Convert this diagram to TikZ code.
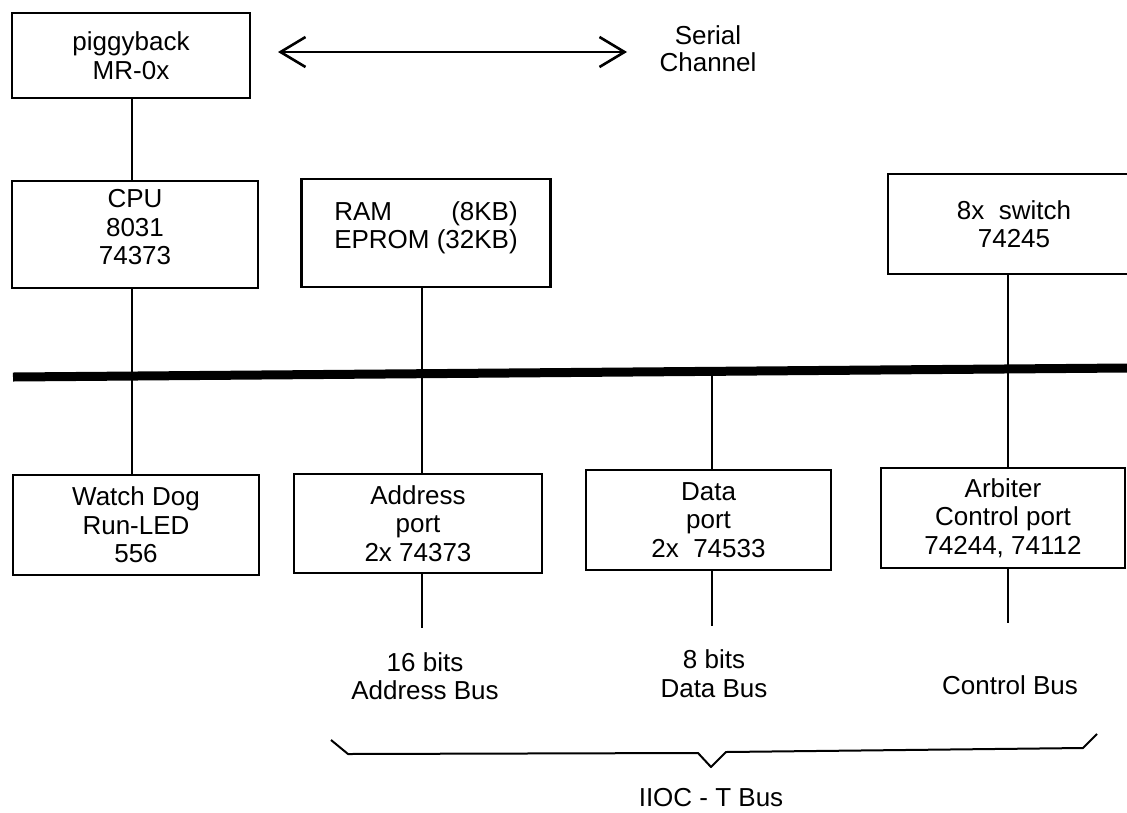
\documentclass[tikz,border=0pt]{standalone}
\usepackage{fontspec}
\setmainfont{Liberation Sans}
\usetikzlibrary{arrows.meta}
\newlength\ramw
\begin{document}
\begin{tikzpicture}[x=1pt,y=-1pt,
  font=\fontsize{26}{28.5}\selectfont,
  box/.style={draw, line width=2.6pt, align=center, inner sep=0pt},
  lbl/.style={align=center, inner sep=0pt},
  wire/.style={line width=2.3pt},
  busline/.style={line width=9pt},
  brace/.style={line width=2pt, line join=round},
  barb/.tip={Straight Barb[length=25pt,width=30pt]}]
\useasboundingbox (0,0) rectangle (1127,812);

% x positions of the vertical wires
\coordinate (cpuX) at (132,0);
\coordinate (ramX) at (422,0);
\coordinate (datX) at (712,0);
\coordinate (ctlX) at (1008,0);

% processor side
\node[box, minimum width=238pt, minimum height=85pt] (piggy) at (131,55.5) {piggyback\\MR-0x};
\node[box, minimum width=246pt, minimum height=107pt,
  label={[lbl, yshift=7pt]center:{CPU\\8031\\74373}}] (cpu) at (135,234.5) {};
\node[box, minimum width=246pt, minimum height=100pt] (watch) at (136,525) {Watch Dog\\Run-LED\\556};

% memory and switch
\node[box, minimum width=249pt, minimum height=108pt,
  label={[lbl, yshift=5pt]center:{\settowidth{\ramw}{EPROM (32KB)}\hbox to\ramw{RAM\hfill(8KB)}\\EPROM (32KB)}}]
  (ram) at (426,233) {};
\node[box, minimum width=252pt, minimum height=100pt] (sw) at (1014,224) {8x~ switch\\74245};

% bus ports
\node[box, minimum width=248pt, minimum height=99pt] (addr) at (418,523.5) {Address\\port\\2x 74373};
\node[box, minimum width=245pt, minimum height=100pt] (data) at (708.5,520) {Data\\port\\2x~ 74533};
\node[box, minimum width=244pt, minimum height=100pt] (arb) at (1003,518) {Arbiter\\Control port\\74244, 74112};

% serial channel
\node[lbl, font=\fontsize{26}{27}\selectfont] (serial) at (708,48.5) {Serial\\Channel};
\coordinate (serL) at (278,52);
\coordinate (serR) at (627,52);
\draw[wire, line width=2.6pt, barb-barb] (serL) -- (serR);

% internal bus
\coordinate (busL) at (13,377);
\coordinate (busR) at (1127,368);
\draw[busline] (busL) -- (busR);

% vertical wires
\draw[wire] (piggy.south -| cpuX) -- (cpu.north -| cpuX);
\draw[wire] (cpu.south -| cpuX) -- (watch.north -| cpuX);
\draw[wire] (ram.south -| ramX) -- (addr.north -| ramX);
\coordinate (datBus) at (712,371);
\draw[wire] (datBus) -- (data.north -| datX);
\draw[wire] (sw.south -| ctlX) -- (arb.north -| ctlX);

% external bus lines
\coordinate (aEnd) at (422,628);
\coordinate (dEnd) at (712,626);
\coordinate (cEnd) at (1008,623);
\draw[wire] (addr.south -| ramX) -- (aEnd);
\draw[wire] (data.south -| datX) -- (dEnd);
\draw[wire] (arb.south -| ctlX) -- (cEnd);

\node[lbl] (lab16) at (425,676) {16 bits\\Address Bus};
\node[lbl] (lab8) at (714,673.5) {8 bits\\Data Bus};
\node[lbl] (labC) at (1010,685) {Control Bus};

% brace grouping the three buses
\coordinate (b1) at (331,740);
\coordinate (b2) at (348,754);
\coordinate (b3) at (698,753);
\coordinate (b4) at (711,767);
\coordinate (b5) at (726,752);
\coordinate (b6) at (1083,748);
\coordinate (b7) at (1097,734);
\draw[brace] (b1) -- (b2) -- (b3) -- (b4) -- (b5) -- (b6) -- (b7);
\node[lbl] (iioc) at (711,798) {IIOC - T Bus};
\end{tikzpicture}
\end{document}
